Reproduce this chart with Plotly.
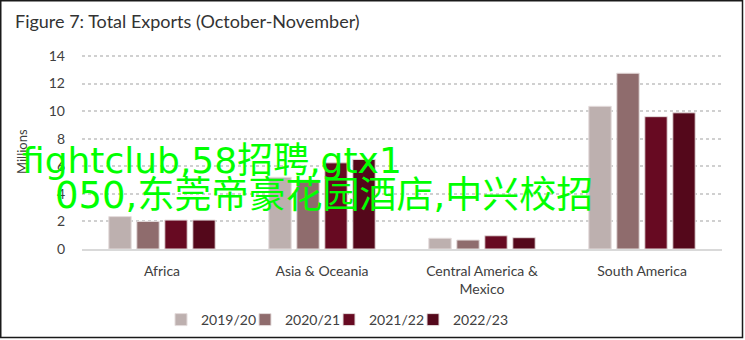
import plotly.graph_objects as go

categories = ["Africa", "Asia & Oceania", "Central America &<br>Mexico", "South America"]
series_names = ["2019/20", "2020/21", "2021/22", "2022/23"]
v_2019_20 = [2.35, 5.2, 0.78, 10.35]
v_2020_21 = [2.0, 5.0, 0.65, 12.75]
v_2021_22 = [2.1, 6.25, 0.96, 9.6]
v_2022_23 = [2.1, 6.5, 0.82, 9.88]
series_values = [v_2019_20, v_2020_21, v_2021_22, v_2022_23]
colors = ["#BDB0AF", "#8F6C6D", "#670A22", "#54081B"]
y_ticks = [0, 2, 4, 6, 8, 10, 12, 14]

W, H = 745, 340
L, R, T, B = 82, 722, 48, 249
PW, PH = R - L, B - T
ymax = PH / ((B - 56) / 14.0)


def px(xp):
    return (xp - L) / PW


def py(yp):
    return (B - yp) / PH


FONT = "Lato"
OVERLAY_FONT = "DejaVu Sans, Noto Sans CJK SC"
legend_ids = ["legend", "legend2", "legend3", "legend4"]
fig = go.Figure()
for name, vals, col, lid in zip(series_names, series_values, colors, legend_ids):
    fig.add_trace(go.Bar(
        x=categories, y=vals, name=name, legend=lid,
        marker=dict(color=col, line=dict(color="#E4DCDC", width=1)),
    ))

legend_layout = {}
for i, lid in enumerate(legend_ids):
    legend_layout[lid] = dict(
        orientation="h", x=px(161 + 84 * i), xanchor="left", y=py(320), yanchor="middle",
        font=dict(family=FONT, size=14, color="#404040"),
        itemwidth=30, bgcolor="rgba(0,0,0,0)",
    )

fig.update_layout(
    width=W, height=H,
    margin=dict(l=L, r=W - R, t=T, b=H - B, autoexpand=False),
    paper_bgcolor="white", plot_bgcolor="white",
    barmode="group", bargap=0.3, bargroupgap=0.2,
    font=dict(family=FONT, size=14, color="#404040"),
    showlegend=True,
    xaxis=dict(
        showgrid=False, showline=True, linecolor="#D9D9D9", linewidth=2,
        ticks="", tickfont=dict(family=FONT, size=14, color="#404040"),
        ticklabelstandoff=8, fixedrange=True,
    ),
    yaxis=dict(
        range=[0, ymax], tickvals=y_ticks, showline=False, zeroline=False,
        showgrid=True, gridcolor="#D0D0D0", griddash="dot", gridwidth=1.5,
        ticks="", ticklabelstandoff=16,
        tickfont=dict(family=FONT, size=14, color="#404040"),
    ),
    **legend_layout,
)

# Axis title
fig.add_annotation(
    text="Millions", xref="paper", yref="paper", x=px(22), y=py(152),
    textangle=-90, showarrow=False, xanchor="center", yanchor="middle",
    font=dict(family=FONT, size=13, color="#404040"),
)
# Title
fig.add_annotation(
    text="Figure 7: Total Exports (October-November)", xref="paper", yref="paper",
    x=px(13), y=py(21), showarrow=False, xanchor="left", yanchor="middle",
    font=dict(family=FONT, size=18, color="#333333"),
)
# Overlay text
fig.add_annotation(
    text="fightclub,58招聘,gtx1", xref="paper", yref="paper",
    x=px(20), y=py(160), showarrow=False, xanchor="left", yanchor="middle",
    font=dict(family=OVERLAY_FONT, size=36, color="#00FF00"),
)
fig.add_annotation(
    text="050,东莞帝豪花园酒店,中兴校招", xref="paper", yref="paper",
    x=px(53), y=py(195), showarrow=False, xanchor="left", yanchor="middle",
    font=dict(family=OVERLAY_FONT, size=37, color="#00FF00"),
)
# Outer border
fig.add_shape(
    type="rect", xref="paper", yref="paper",
    x0=px(0.75), x1=px(742.5), y0=py(337.5), y1=py(0.75),
    line=dict(color="#1A1A1A", width=1.5), fillcolor="rgba(0,0,0,0)", layer="above",
)

fig.write_html("out.html")
